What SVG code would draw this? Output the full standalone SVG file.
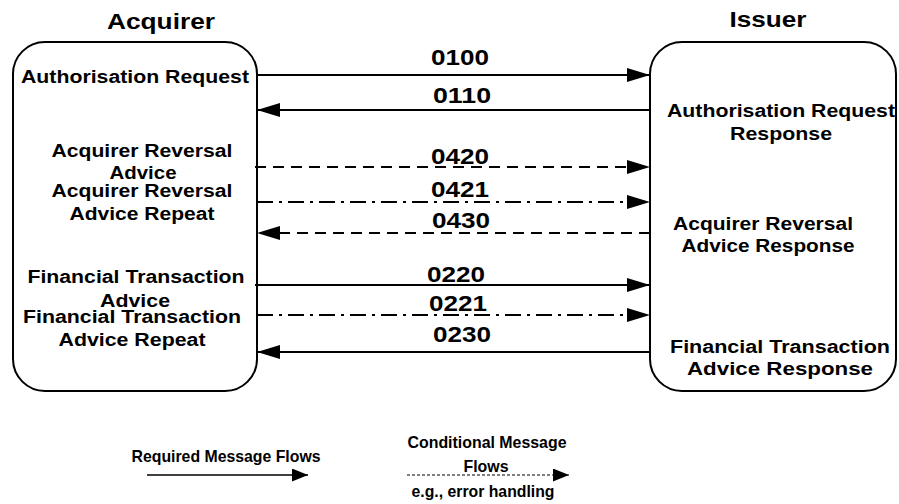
<svg xmlns="http://www.w3.org/2000/svg" width="899" height="504" viewBox="0 0 899 504">
<style>
.box{fill:#fff;stroke:#000;stroke-width:2}
.t{font-family:"Liberation Sans",Arial,sans-serif;font-weight:bold;fill:#000;text-anchor:middle}
.title{font-size:22.5px}
.lbl{font-size:17.5px}
.num{font-size:22px}
.leg{font-size:17px}
.ln{stroke:#000;stroke-width:2;fill:none}
.dash{stroke-dasharray:11 7}
.dd{stroke-dasharray:16 6 3 6}
</style>
<defs>
<marker id="ah" markerUnits="userSpaceOnUse" markerWidth="24" markerHeight="14" refX="23" refY="7" orient="auto">
<path d="M0,0 L23,7 L0,14 z" fill="#000"/>
</marker>
<marker id="ahs" markerUnits="userSpaceOnUse" markerWidth="17" markerHeight="13" refX="16" refY="6.5" orient="auto">
<path d="M0,0 L16,6.5 L0,13 z" fill="#000"/>
</marker>
</defs>
<g id="acquirer">
<rect class="box" x="13" y="42" width="244" height="349" rx="32" ry="32"/>
<text class="t title" x="161" y="29" textLength="108" lengthAdjust="spacingAndGlyphs">Acquirer</text>
<text class="t lbl" x="135" y="83" textLength="228" lengthAdjust="spacingAndGlyphs">Authorisation Request</text>
<text class="t lbl" x="142" y="157" textLength="181" lengthAdjust="spacingAndGlyphs">Acquirer Reversal</text>
<text class="t lbl" x="143" y="179" textLength="67" lengthAdjust="spacingAndGlyphs">Advice</text>
<text class="t lbl" x="142" y="197" textLength="181" lengthAdjust="spacingAndGlyphs">Acquirer Reversal</text>
<text class="t lbl" x="142" y="220" textLength="145" lengthAdjust="spacingAndGlyphs">Advice Repeat</text>
<text class="t lbl" x="136" y="283" textLength="217" lengthAdjust="spacingAndGlyphs">Financial Transaction</text>
<text class="t lbl" x="135" y="307" textLength="70" lengthAdjust="spacingAndGlyphs">Advice</text>
<text class="t lbl" x="132" y="323" textLength="218" lengthAdjust="spacingAndGlyphs">Financial Transaction</text>
<text class="t lbl" x="132" y="346" textLength="147" lengthAdjust="spacingAndGlyphs">Advice Repeat</text>
</g>
<g id="issuer">
<rect class="box" x="650" y="42" width="246" height="349" rx="32" ry="32"/>
<text class="t title" x="768" y="27" textLength="77" lengthAdjust="spacingAndGlyphs">Issuer</text>
<text class="t lbl" x="781" y="117" textLength="228" lengthAdjust="spacingAndGlyphs">Authorisation Request</text>
<text class="t lbl" x="781" y="140" textLength="102" lengthAdjust="spacingAndGlyphs">Response</text>
<text class="t lbl" x="763" y="230" textLength="180" lengthAdjust="spacingAndGlyphs">Acquirer Reversal</text>
<text class="t lbl" x="768" y="252" textLength="173" lengthAdjust="spacingAndGlyphs">Advice Response</text>
<text class="t lbl" x="780" y="353" textLength="220" lengthAdjust="spacingAndGlyphs">Financial Transaction</text>
<text class="t lbl" x="780" y="375" textLength="186" lengthAdjust="spacingAndGlyphs">Advice Response</text>
</g>
<g id="connectors">
<line class="ln" x1="257" y1="75" x2="650" y2="75" marker-end="url(#ah)"/>
<line class="ln" x1="650" y1="110" x2="257" y2="110" marker-end="url(#ah)"/>
<line class="ln dash" x1="255" y1="167" x2="650" y2="167" marker-end="url(#ah)"/>
<line class="ln dd" x1="257" y1="202" x2="650" y2="202" marker-end="url(#ah)"/>
<line class="ln dash" x1="650" y1="233" x2="257" y2="233" marker-end="url(#ah)"/>
<line class="ln" x1="255" y1="285" x2="650" y2="285" marker-end="url(#ah)"/>
<line class="ln dd" x1="257" y1="315" x2="650" y2="315" marker-end="url(#ah)"/>
<line class="ln" x1="650" y1="352" x2="257" y2="352" marker-end="url(#ah)"/>
<text class="t num" x="460" y="65" textLength="58" lengthAdjust="spacingAndGlyphs">0100</text>
<text class="t num" x="462" y="103" textLength="58" lengthAdjust="spacingAndGlyphs">0110</text>
<text class="t num" x="460" y="164" textLength="58" lengthAdjust="spacingAndGlyphs">0420</text>
<text class="t num" x="460" y="197" textLength="58" lengthAdjust="spacingAndGlyphs">0421</text>
<text class="t num" x="461" y="228" textLength="58" lengthAdjust="spacingAndGlyphs">0430</text>
<text class="t num" x="456" y="282" textLength="58" lengthAdjust="spacingAndGlyphs">0220</text>
<text class="t num" x="458" y="311" textLength="58" lengthAdjust="spacingAndGlyphs">0221</text>
<text class="t num" x="462" y="342" textLength="58" lengthAdjust="spacingAndGlyphs">0230</text>
</g>
<g id="legend">
<line x1="147" y1="475" x2="308" y2="475" stroke="#000" stroke-width="1.5" marker-end="url(#ahs)"/>
<text class="t leg" x="226" y="462" textLength="189" lengthAdjust="spacingAndGlyphs">Required Message Flows</text>
<line x1="407" y1="475" x2="569" y2="475" stroke="#000" stroke-width="1" stroke-dasharray="3 2" marker-end="url(#ahs)"/>
<text class="t leg" x="487" y="448" textLength="159" lengthAdjust="spacingAndGlyphs">Conditional Message</text>
<text class="t leg" x="486" y="472" textLength="45" lengthAdjust="spacingAndGlyphs">Flows</text>
<text class="t leg" x="483" y="497" textLength="143" lengthAdjust="spacingAndGlyphs">e.g., error handling</text>
</g>
</svg>
